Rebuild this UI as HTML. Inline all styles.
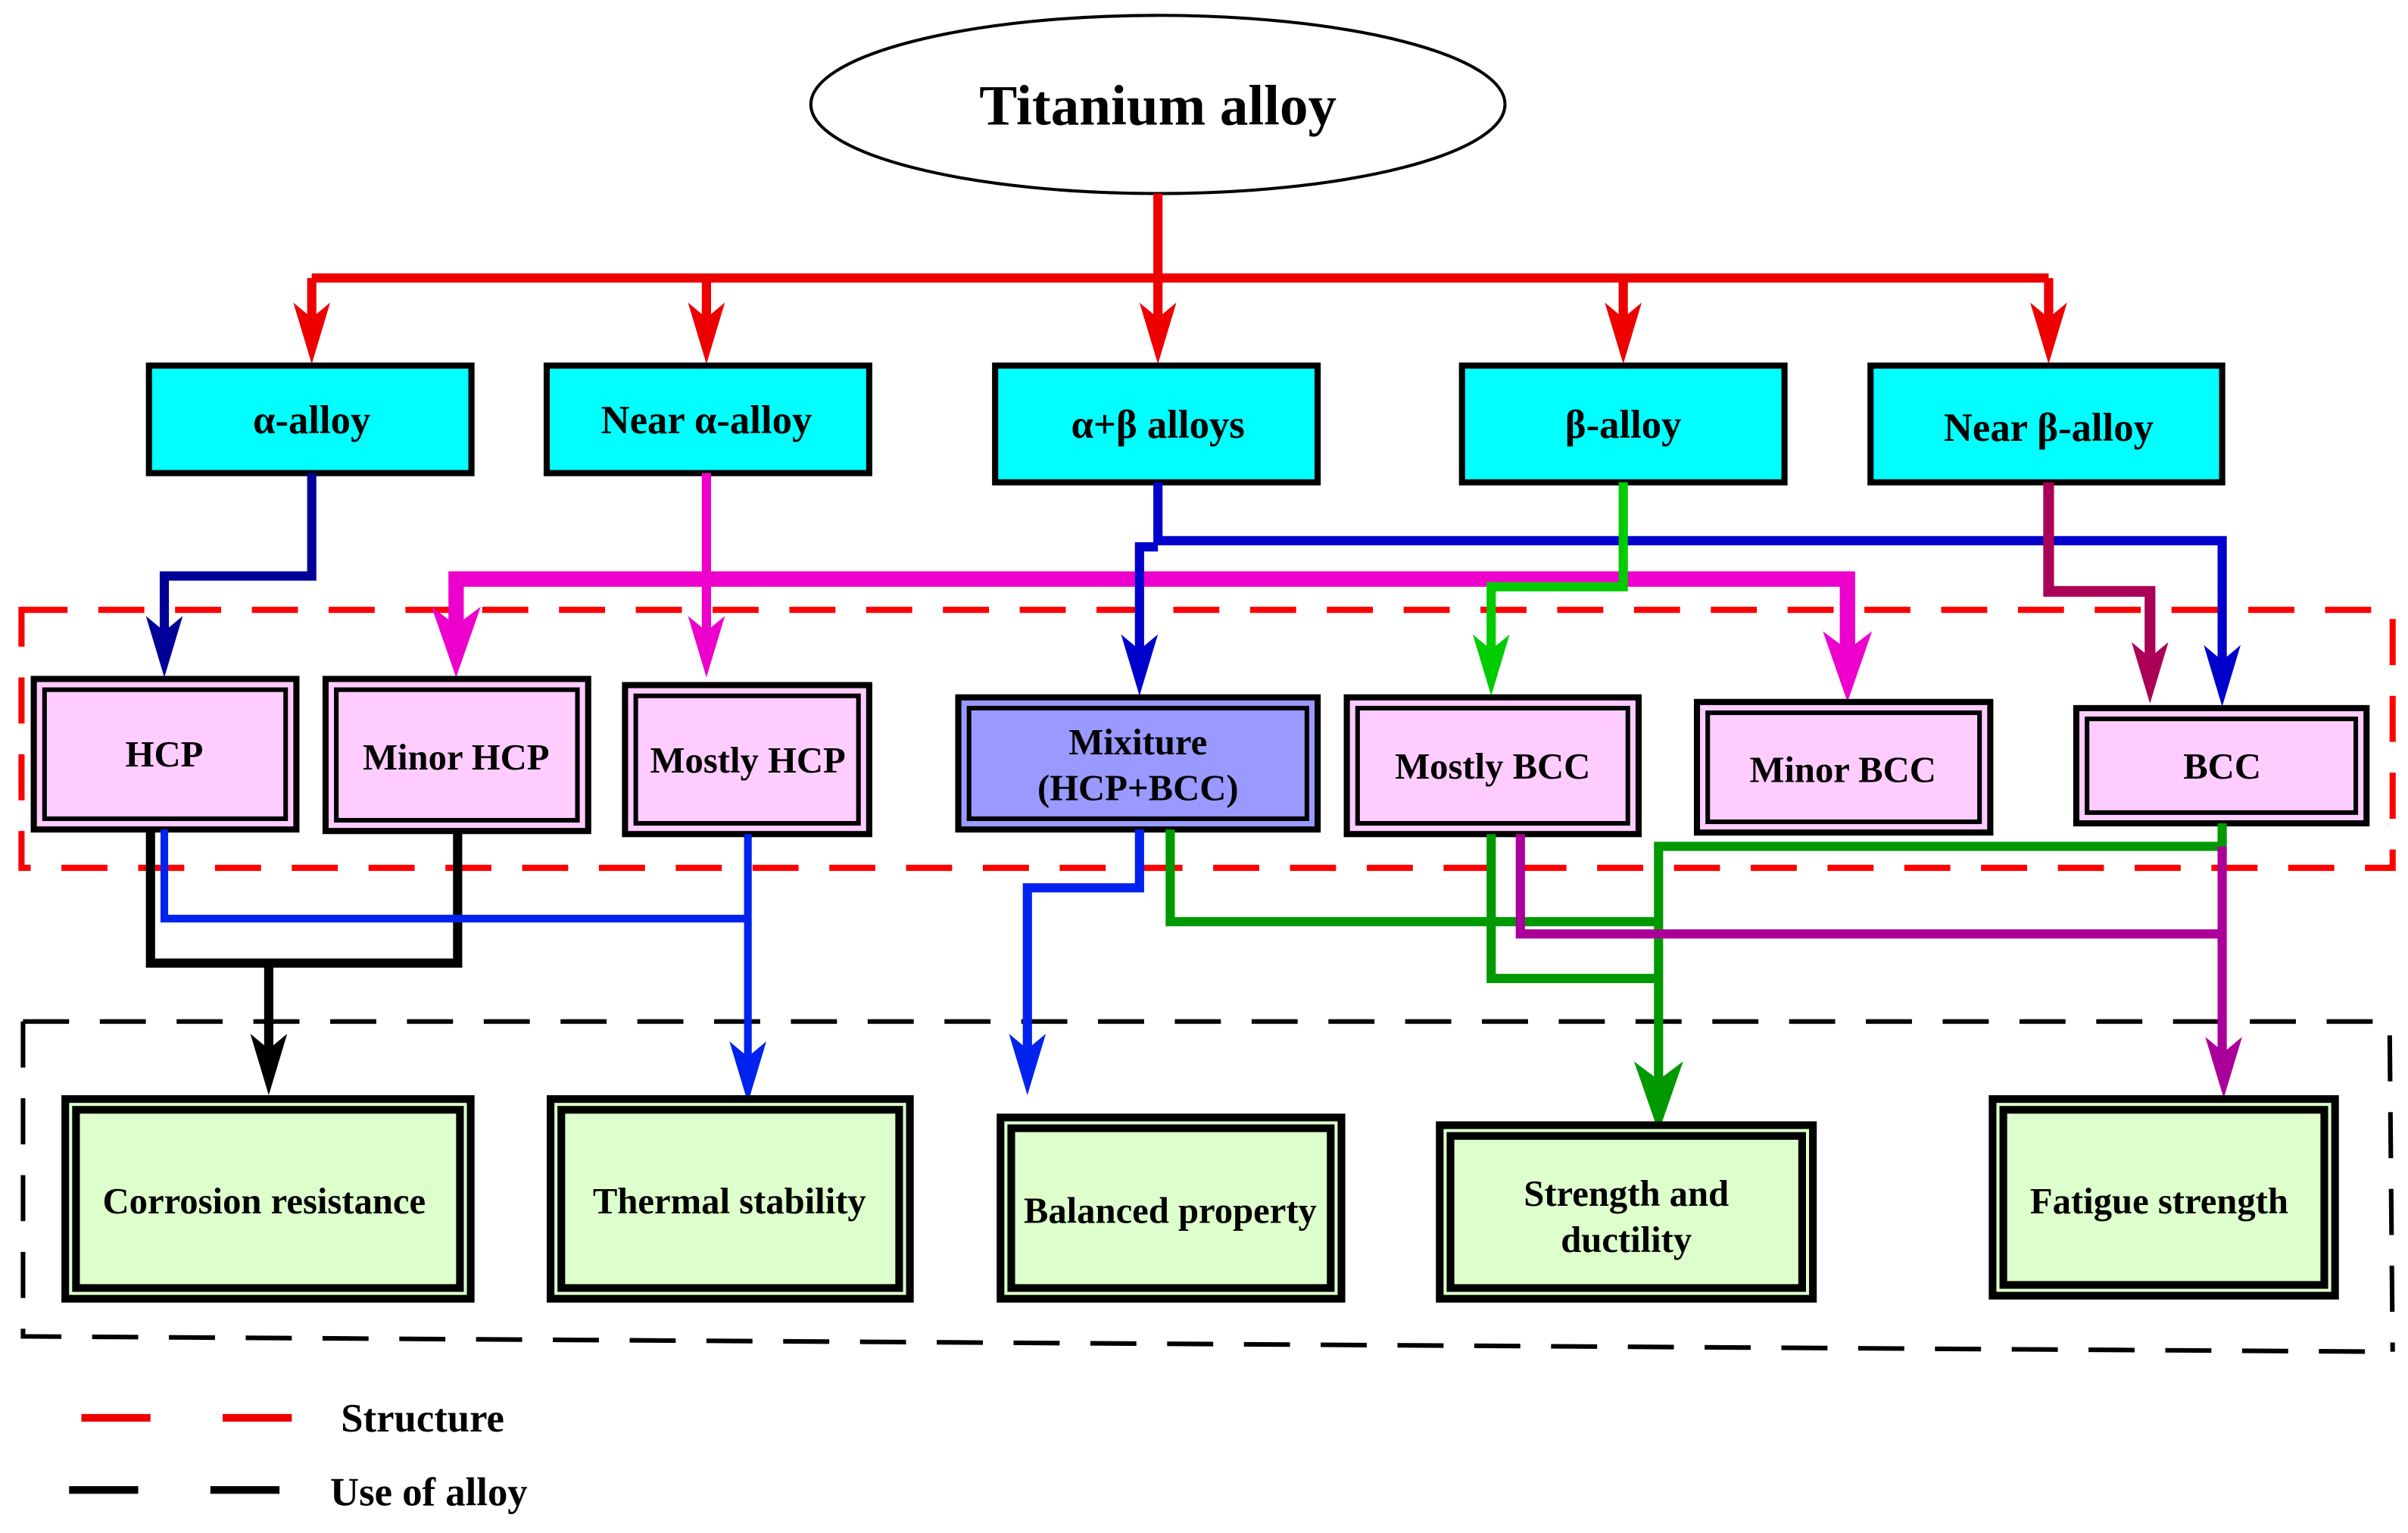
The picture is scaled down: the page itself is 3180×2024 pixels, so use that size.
<!DOCTYPE html>
<html><head><meta charset="utf-8"><style>
html,body{margin:0;padding:0;background:#fff;}
svg{display:block;}
text{font-family:"Liberation Serif",serif;font-weight:bold;fill:#000;}
</style></head><body>
<svg width="3180" height="2024" viewBox="0 0 1568 998" preserveAspectRatio="none" xmlns="http://www.w3.org/2000/svg">
<defs>
<g id="ah"><polygon points="0,0 -12,-40 0,-30 12,-40"/></g>
<g id="ahb"><polygon points="0,0 -16,-46 0,-34 16,-46"/></g>
</defs>
<rect width="1568" height="998" fill="#fff"/>

<rect x="14" y="397" width="1544" height="168" fill="none" stroke="#f00" stroke-width="4" stroke-dasharray="30,20"/>
<path d="M15 665 L1556 665 L1558 880 M15 665 L15 870 L1558 880" fill="none" stroke="#000" stroke-width="3" stroke-dasharray="30,20"/>

<ellipse cx="754" cy="68" rx="226" ry="58" fill="#fff" stroke="#000" stroke-width="2"/>
<text x="754" y="81" font-size="37" text-anchor="middle">Titanium alloy</text>

<g stroke="#e00" stroke-width="6" fill="none">
<path d="M754 126 V181 M203 181 H1334 M203 181 V220 M460 181 V220 M754 181 V220 M1057 181 V220 M1334 181 V220"/>
</g>
<g fill="#e00">
<use href="#ah" x="203" y="237"/><use href="#ah" x="460" y="237"/><use href="#ah" x="754" y="237"/><use href="#ah" x="1057" y="237"/><use href="#ah" x="1334" y="237"/>
</g>

<g fill="#00ffff" stroke="#000" stroke-width="4">
<rect x="97" y="238" width="210" height="70"/>
<rect x="356" y="238" width="210" height="70"/>
<rect x="648" y="238" width="210" height="76"/>
<rect x="952" y="238" width="210" height="76"/>
<rect x="1218" y="238" width="229" height="76"/>
</g>
<g font-size="26" text-anchor="middle">
<text x="203" y="282">α-alloy</text>
<text x="460" y="282">Near α-alloy</text>
<text x="754" y="285">α+β alloys</text>
<text x="1057" y="285">β-alloy</text>
<text x="1334" y="287">Near β-alloy</text>
</g>

<path d="M203 308 V375 H107 V425" fill="none" stroke="#000099" stroke-width="6"/>
<use href="#ah" x="107" y="441" fill="#000099"/>
<path d="M460 308 V425" fill="none" stroke="#ee00cc" stroke-width="6"/>
<path d="M297 425 V377 H1203 V430" fill="none" stroke="#ee00cc" stroke-width="10"/>
<g fill="#ee00cc"><use href="#ah" x="460" y="441"/><use href="#ahb" x="297" y="441"/><use href="#ahb" x="1203" y="457"/></g>
<path d="M754 314 V352 H1447 V440 M754 356 H742 V437" fill="none" stroke="#0000cc" stroke-width="6"/>
<g fill="#0000cc"><use href="#ah" x="742" y="453"/><use href="#ah" x="1447" y="460"/></g>
<path d="M1057 314 V382 H971 V437" fill="none" stroke="#00cc00" stroke-width="6"/>
<use href="#ah" x="971" y="453" fill="#00cc00"/>
<path d="M1334 314 V385 H1400 V440" fill="none" stroke="#aa0055" stroke-width="7"/>
<use href="#ah" x="1400" y="458" fill="#aa0055"/>

<g stroke="#000">
<g fill="#ffccff">
<rect x="22" y="442" width="171" height="98" stroke-width="4"/><rect x="29" y="449" width="157" height="84" stroke-width="3"/>
<rect x="212" y="442" width="171" height="99" stroke-width="4"/><rect x="219" y="449" width="157" height="85" stroke-width="3"/>
<rect x="407" y="446" width="159" height="97" stroke-width="4"/><rect x="414" y="453" width="145" height="83" stroke-width="3"/>
<rect x="877" y="454" width="190" height="89" stroke-width="4"/><rect x="884" y="461" width="176" height="75" stroke-width="3"/>
<rect x="1105" y="457" width="191" height="85" stroke-width="4"/><rect x="1112" y="464" width="177" height="71" stroke-width="3"/>
<rect x="1352" y="461" width="189" height="75" stroke-width="4"/><rect x="1359" y="468" width="175" height="61" stroke-width="3"/>
</g>
<rect x="624" y="454" width="234" height="86" stroke-width="4" fill="#9999ff"/><rect x="631" y="461" width="220" height="72" stroke-width="3" fill="#9999ff"/>
</g>
<g font-size="24" text-anchor="middle">
<text x="107" y="499">HCP</text>
<text x="297" y="501">Minor HCP</text>
<text x="487" y="503">Mostly HCP</text>
<text x="741" y="491">Mixiture</text>
<text x="741" y="521">(HCP+BCC)</text>
<text x="972" y="507">Mostly BCC</text>
<text x="1200" y="509">Minor BCC</text>
<text x="1447" y="507">BCC</text>
</g>

<path d="M98 540 V627 H298 V541 M175 627 V697" fill="none" stroke="#000" stroke-width="6"/>
<use href="#ah" x="175" y="713" fill="#000"/>
<path d="M107 540 V598 H487 M487 543 V697" fill="none" stroke="#0022ee" stroke-width="5"/>
<use href="#ah" x="487" y="718" fill="#0022ee"/>
<path d="M742 540 V578 H669 V697" fill="none" stroke="#0022ee" stroke-width="6"/>
<use href="#ah" x="669" y="713" fill="#0022ee"/>
<path d="M762 540 V600 H1080 M971 543 V637 H1080 M1447 536 V551 H1080 V720" fill="none" stroke="#009900" stroke-width="6"/>
<use href="#ahb" x="1080" y="737" fill="#009900"/>
<path d="M990 543 V608 H1447 M1447 551 V697" fill="none" stroke="#aa0099" stroke-width="6"/>
<use href="#ah" x="1448" y="715" fill="#aa0099"/>

<g>
<g fill="#000">
<rect x="40" y="713" width="269" height="135"/>
<rect x="356" y="713" width="239" height="135"/>
<rect x="649" y="725" width="227" height="123"/>
<rect x="935" y="730" width="248" height="118"/>
<rect x="1295" y="713" width="228" height="133"/>
</g>
<g fill="#ddffcc">
<rect x="45" y="718" width="259" height="125"/>
<rect x="361" y="718" width="229" height="125"/>
<rect x="654" y="730" width="217" height="113"/>
<rect x="940" y="735" width="238" height="108"/>
<rect x="1300" y="718" width="218" height="123"/>
</g>
<g fill="#000">
<rect x="47" y="720" width="255" height="121"/>
<rect x="363" y="720" width="225" height="121"/>
<rect x="656" y="732" width="213" height="109"/>
<rect x="942" y="737" width="234" height="104"/>
<rect x="1302" y="720" width="214" height="119"/>
</g>
<g fill="#ddffcc">
<rect x="52" y="725" width="245" height="111"/>
<rect x="368" y="725" width="215" height="111"/>
<rect x="661" y="737" width="203" height="99"/>
<rect x="947" y="742" width="224" height="94"/>
<rect x="1307" y="725" width="204" height="109"/>
</g>
</g>
<g font-size="24" text-anchor="middle">
<text x="172" y="790">Corrosion resistance</text>
<text x="475" y="790">Thermal stability</text>
<text x="762" y="796">Balanced property</text>
<text x="1059" y="785">Strength and</text>
<text x="1059" y="815">ductility</text>
<text x="1406" y="790">Fatigue strength</text>
</g>

<path d="M53 923 H98 M145 923 H190" stroke="#e00" stroke-width="5"/>
<path d="M45 970 H90 M137 970 H182" stroke="#000" stroke-width="5"/>
<text x="222" y="932" font-size="26">Structure</text>
<text x="215" y="980" font-size="26">Use of alloy</text>
</svg>
</body></html>
